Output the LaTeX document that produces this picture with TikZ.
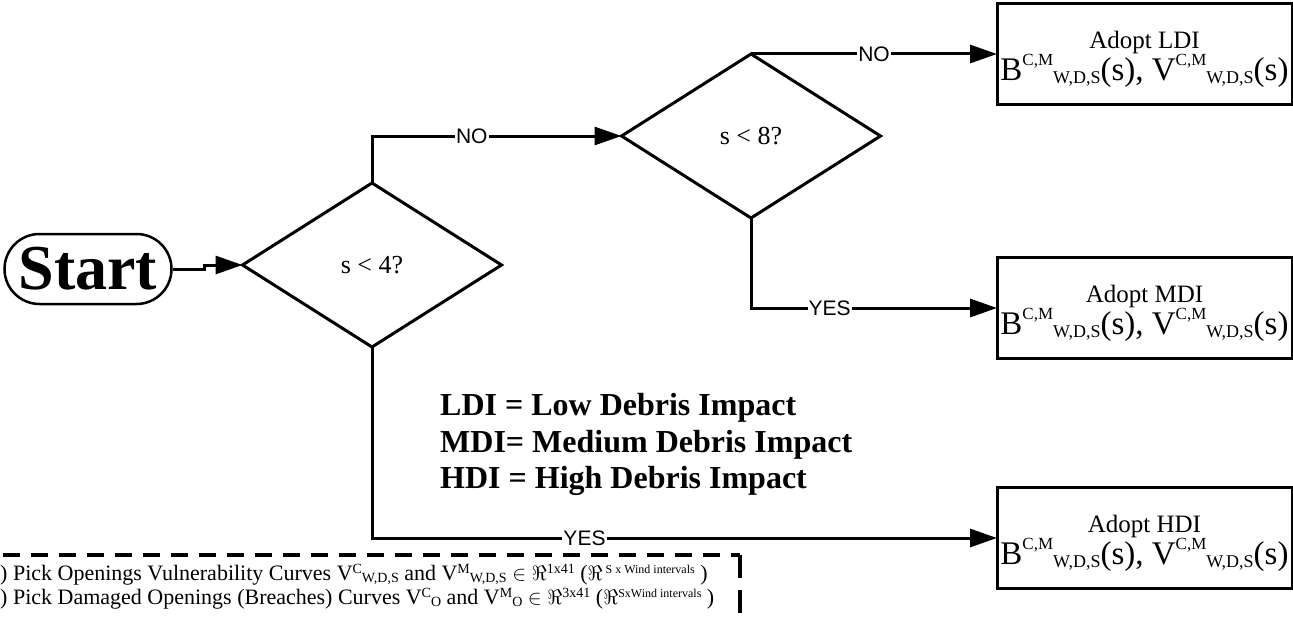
\documentclass[tikz,border=0pt]{standalone}
\usepackage{fontspec}
\setmainfont{Liberation Serif}
\newfontfamily\arialfont{Liberation Sans}
\usetikzlibrary{arrows.meta,shapes.geometric,positioning}

\newcommand{\supsub}[2]{\raisebox{15pt}{\fontsize{17}{17}\selectfont #1}\raisebox{-3pt}{\fontsize{18}{18}\selectfont #2}}
\newcommand{\adoptline}{{\fontsize{33}{33}\selectfont B\supsub{C,M}{W,D,S}(s), V\supsub{C,M}{W,D,S}(s)}}
\newcommand{\picksupsub}[2]{\raisebox{7pt}{\fontsize{14}{14}\selectfont #1}\raisebox{-2pt}{\fontsize{14}{14}\selectfont #2}}
\newcommand{\picksup}[2]{\raisebox{7pt}{\fontsize{#1}{#1}\selectfont #2}}

\begin{document}
\begin{tikzpicture}[x=1pt, y=-1pt,
  startbox/.style={draw, line width=2.5pt, rounded corners=35pt, minimum width=167pt, minimum height=70pt, inner sep=0pt, font=\fontsize{64}{64}\selectfont\bfseries},
  test/.style={draw, diamond, line width=3pt, minimum width=259pt, minimum height=164pt, inner sep=0pt, outer sep=0pt, font=\fontsize{26}{26}\selectfont},
  result/.style={draw, line width=3pt, minimum width=295pt, minimum height=101pt, inner sep=0pt, outer sep=0pt, align=center, font=\fontsize{25}{28}\selectfont},
  arr/.style={-{Triangle[length=27pt, width=18pt]}, line width=3pt},
  lbl/.style={fill=white, inner sep=1pt, font=\arialfont\fontsize{21}{21}\selectfont},
  legend/.style={anchor=base west, inner sep=0pt, font=\fontsize{32}{32}\selectfont\bfseries},
  pick/.style={anchor=base west, inner sep=0pt, font=\fontsize{22}{22}\selectfont},
  dashline/.style={line width=3.3pt, dash pattern=on 17pt off 11pt},
]
  \clip (0,0) rectangle (1293,618);

  % flow
  \node[startbox] (start) at (88,269) {Start};
  \node[test] (d1) at (372,265) {s < 4?};
  \node[test] (d2) at (751,136) {s < 8?};
  \node[result] (ldi) at (1144.5,54) {\rule{0pt}{28pt}Adopt LDI\\[0pt]\adoptline};
  \node[result] (mdi) at (1144.5,308) {\rule{0pt}{28pt}Adopt MDI\\[0pt]\adoptline};
  \node[result] (hdi) at (1144.5,538) {\rule{0pt}{28pt}Adopt HDI\\[0pt]\adoptline};

  \draw[arr] (start.east) -- ++(32,0) |- (d1.west);
  \draw[arr] (d1.north) |- node[lbl, pos=0.7] {NO} (d2.west);
  \draw[arr] (d2.north) -- node[lbl] {NO} (ldi.west);
  \draw[arr] (d2.south) |- node[lbl, pos=0.66] {YES} (mdi.west);
  \draw[arr] (d1.south) |- node[lbl, pos=0.67] {YES} (hdi.west);

  % legend
  \node[legend] (leg1) at (440,415) {LDI = Low Debris Impact};
  \node[legend] (leg2) at (440,452) {MDI= Medium Debris Impact};
  \node[legend] (leg3) at (440,488) {HDI = High Debris Impact};

  % dashed note box
  \draw[dashline] (-25,555) -- (740,555);
  \draw[line width=3.3pt, dash pattern=on 23pt off 12pt] (740,555) -- (740,640);
  \node[pick] (pick1) at (0,580) {) Pick Openings Vulnerability Curves V\picksupsub{C}{W,D,S} and V\picksupsub{M}{W,D,S} $\in\Re$\picksup{14}{1x41} ($\Re$\picksup{12}{ S x Wind intervals} )};
  \node[pick] (pick2) at (0,604) {) Pick Damaged Openings (Breaches) Curves V\picksupsub{C}{O} and V\picksupsub{M}{O} $\in\Re$\picksup{14}{3x41} ($\Re$\picksup{12}{SxWind intervals} )};
\end{tikzpicture}
\end{document}
